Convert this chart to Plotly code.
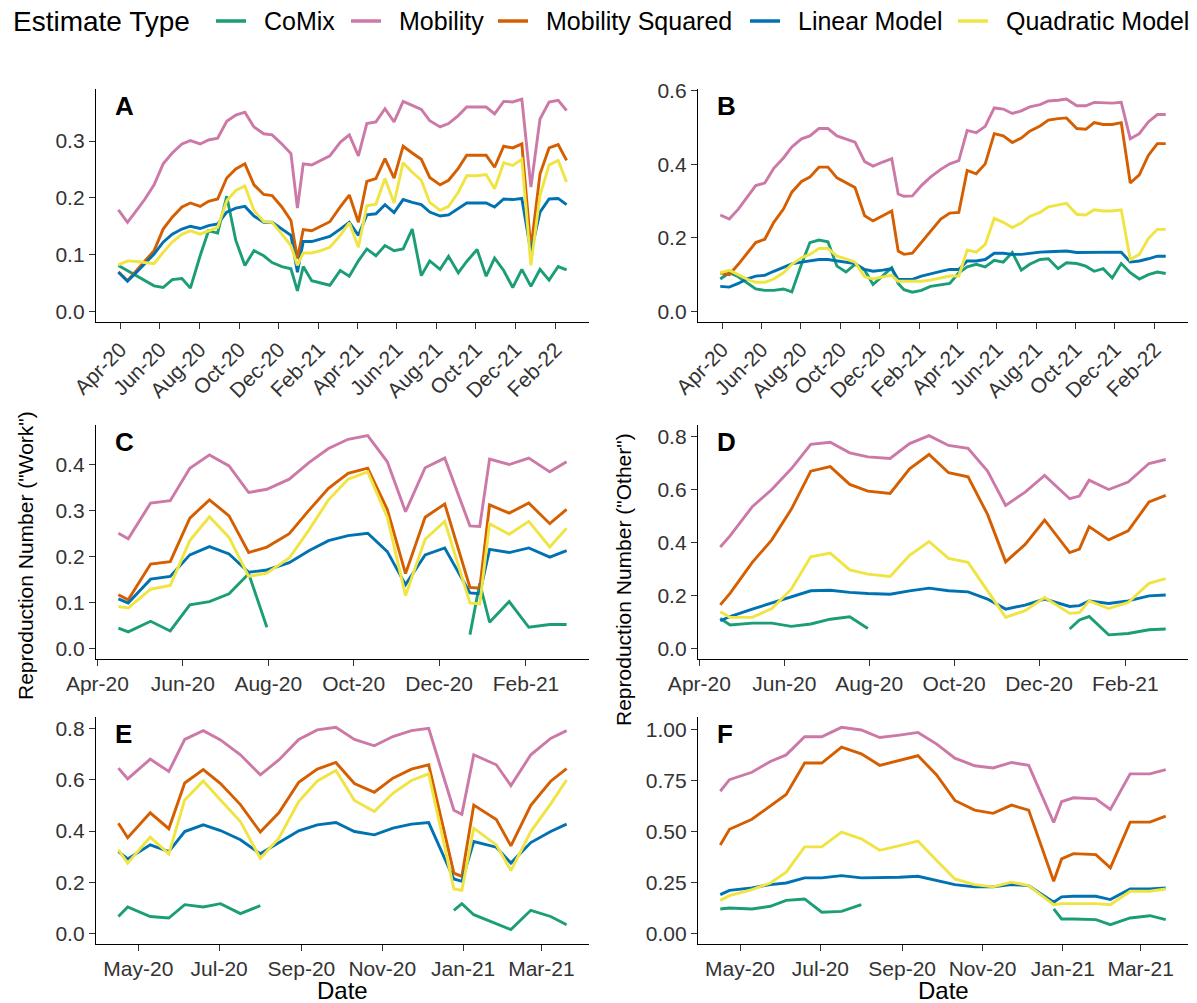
import plotly.graph_objects as go
import pandas as pd

FONT = "Liberation Sans, Arial, Helvetica, sans-serif"

series_names = ["CoMix", "Mobility", "Mobility Squared", "Linear Model", "Quadratic Model"]
series_colors = ["#1B9E77", "#CC79A7", "#D55E00", "#0072B2", "#F0E442"]

# ---------------- Panels A / B (whole period) ----------------
dates_AB = ["2020-03-29", "2020-04-12", "2020-04-26", "2020-05-09", "2020-05-23", "2020-06-06",
            "2020-06-20", "2020-07-05", "2020-07-18", "2020-08-02", "2020-08-15", "2020-08-29",
            "2020-09-12", "2020-09-26", "2020-10-10", "2020-10-24", "2020-11-08", "2020-11-21",
            "2020-12-06", "2020-12-20", "2020-12-30", "2021-01-08", "2021-01-21", "2021-02-04",
            "2021-02-18", "2021-03-06", "2021-03-20", "2021-04-03", "2021-04-16", "2021-04-30",
            "2021-05-14", "2021-05-28", "2021-06-11", "2021-06-25", "2021-07-09", "2021-07-22",
            "2021-08-07", "2021-08-20", "2021-09-04", "2021-09-17", "2021-10-03", "2021-10-17",
            "2021-10-30", "2021-11-13", "2021-11-27", "2021-12-11", "2021-12-25", "2022-01-08",
            "2022-01-22", "2022-02-05", "2022-02-18"]

A_comix = [0.081, 0.072, 0.063, 0.054, 0.045, 0.042, 0.056, 0.058, 0.041, 0.098, 0.142, 0.138, 0.203,
           0.125, 0.081, 0.107, 0.098, 0.086, 0.079, 0.075, 0.036, 0.079, 0.054, 0.050, 0.046, 0.072,
           0.062, 0.089, 0.110, 0.098, 0.116, 0.107, 0.110, 0.145, 0.063, 0.089, 0.074, 0.097, 0.068,
           0.088, 0.109, 0.062, 0.094, 0.072, 0.042, 0.074, 0.044, 0.074, 0.055, 0.079, 0.073]
A_mob = [0.179, 0.157, 0.178, 0.198, 0.223, 0.260, 0.279, 0.295, 0.301, 0.295, 0.302, 0.305, 0.335,
         0.346, 0.351, 0.325, 0.313, 0.311, 0.295, 0.278, 0.182, 0.260, 0.258, 0.266, 0.274, 0.298,
         0.311, 0.274, 0.331, 0.334, 0.357, 0.334, 0.370, 0.363, 0.356, 0.336, 0.325, 0.331, 0.345,
         0.360, 0.360, 0.360, 0.348, 0.370, 0.369, 0.374, 0.219, 0.339, 0.369, 0.372, 0.354]
A_mob2 = [0.070, 0.054, 0.072, 0.089, 0.107, 0.145, 0.166, 0.184, 0.191, 0.185, 0.194, 0.198, 0.235,
          0.251, 0.260, 0.223, 0.206, 0.204, 0.184, 0.160, 0.093, 0.144, 0.142, 0.150, 0.158, 0.184,
          0.205, 0.157, 0.229, 0.234, 0.269, 0.235, 0.291, 0.279, 0.268, 0.236, 0.223, 0.231, 0.252,
          0.275, 0.275, 0.275, 0.254, 0.291, 0.288, 0.295, 0.110, 0.242, 0.288, 0.294, 0.266]
A_lin = [0.069, 0.053, 0.069, 0.084, 0.101, 0.122, 0.136, 0.145, 0.150, 0.146, 0.151, 0.154, 0.175,
         0.182, 0.185, 0.168, 0.157, 0.157, 0.145, 0.134, 0.069, 0.123, 0.123, 0.128, 0.132, 0.145,
         0.157, 0.134, 0.170, 0.172, 0.188, 0.174, 0.197, 0.192, 0.188, 0.175, 0.168, 0.170, 0.182,
         0.191, 0.191, 0.191, 0.184, 0.198, 0.197, 0.199, 0.104, 0.175, 0.198, 0.199, 0.188]
A_quad = [0.082, 0.089, 0.088, 0.086, 0.084, 0.104, 0.122, 0.136, 0.142, 0.136, 0.142, 0.148, 0.195,
          0.213, 0.221, 0.178, 0.158, 0.157, 0.136, 0.116, 0.081, 0.103, 0.103, 0.107, 0.113, 0.134,
          0.156, 0.113, 0.186, 0.189, 0.234, 0.191, 0.262, 0.245, 0.231, 0.192, 0.178, 0.185, 0.210,
          0.239, 0.239, 0.241, 0.216, 0.262, 0.257, 0.268, 0.081, 0.204, 0.258, 0.266, 0.228]

B_comix = [0.088, 0.105, 0.094, 0.079, 0.061, 0.057, 0.057, 0.061, 0.053, 0.128, 0.187, 0.194, 0.189,
           0.123, 0.107, 0.128, 0.112, 0.073, 0.096, 0.119, 0.076, 0.059, 0.052, 0.057, 0.068, 0.073,
           0.076, 0.105, 0.121, 0.128, 0.121, 0.139, 0.134, 0.160, 0.112, 0.128, 0.141, 0.143, 0.116,
           0.132, 0.130, 0.123, 0.109, 0.116, 0.091, 0.130, 0.105, 0.088, 0.100, 0.107, 0.103]
B_mob = [0.262, 0.251, 0.278, 0.310, 0.342, 0.349, 0.389, 0.417, 0.447, 0.469, 0.477, 0.497, 0.497,
         0.477, 0.469, 0.460, 0.407, 0.395, 0.406, 0.415, 0.319, 0.313, 0.314, 0.342, 0.365, 0.386,
         0.401, 0.410, 0.492, 0.486, 0.503, 0.553, 0.550, 0.538, 0.545, 0.556, 0.562, 0.572, 0.574,
         0.577, 0.559, 0.559, 0.568, 0.566, 0.566, 0.568, 0.469, 0.483, 0.515, 0.535, 0.535]
B_mob2 = [0.105, 0.100, 0.128, 0.155, 0.187, 0.196, 0.242, 0.278, 0.324, 0.353, 0.365, 0.392, 0.392,
          0.363, 0.351, 0.337, 0.260, 0.246, 0.260, 0.273, 0.164, 0.155, 0.158, 0.187, 0.219, 0.251,
          0.267, 0.269, 0.383, 0.374, 0.401, 0.483, 0.477, 0.459, 0.471, 0.490, 0.504, 0.520, 0.524,
          0.526, 0.497, 0.495, 0.513, 0.508, 0.508, 0.513, 0.349, 0.371, 0.424, 0.456, 0.456]
B_lin = [0.068, 0.066, 0.076, 0.088, 0.096, 0.098, 0.109, 0.119, 0.129, 0.134, 0.137, 0.141, 0.141,
         0.137, 0.134, 0.130, 0.114, 0.109, 0.112, 0.116, 0.087, 0.087, 0.087, 0.096, 0.103, 0.109,
         0.114, 0.114, 0.137, 0.137, 0.141, 0.158, 0.158, 0.155, 0.155, 0.158, 0.161, 0.162, 0.164,
         0.164, 0.160, 0.160, 0.161, 0.161, 0.161, 0.161, 0.134, 0.137, 0.143, 0.150, 0.150]
B_quad = [0.105, 0.112, 0.100, 0.088, 0.079, 0.079, 0.088, 0.105, 0.128, 0.146, 0.155, 0.171, 0.171,
          0.150, 0.143, 0.134, 0.094, 0.088, 0.094, 0.098, 0.082, 0.082, 0.082, 0.082, 0.085, 0.091,
          0.096, 0.096, 0.167, 0.161, 0.182, 0.253, 0.242, 0.228, 0.240, 0.258, 0.269, 0.284, 0.289,
          0.294, 0.264, 0.262, 0.276, 0.273, 0.273, 0.276, 0.141, 0.155, 0.198, 0.223, 0.223]

# ---------------- Panels C / D ----------------
dates_CD = ["2020-04-16", "2020-04-23", "2020-05-09", "2020-05-23", "2020-06-06", "2020-06-20",
            "2020-07-04", "2020-07-18", "2020-07-31", "2020-08-16", "2020-08-30", "2020-09-13",
            "2020-09-27", "2020-10-11", "2020-10-25", "2020-11-07", "2020-11-21", "2020-12-05",
            "2020-12-23", "2020-12-30", "2021-01-06", "2021-01-20", "2021-02-03", "2021-02-18",
            "2021-03-02"]

C_comix = [0.044, 0.036, 0.059, 0.038, 0.095, 0.102, 0.119, 0.163, 0.046,
           None, None, None, None, None, None, None, None, None,
           0.030, 0.142, 0.057, 0.102, 0.046, 0.052, 0.052]
C_mob = [0.251, 0.239, 0.317, 0.322, 0.393, 0.422, 0.398, 0.340, 0.347, 0.369, 0.405, 0.436, 0.456,
         0.464, 0.407, 0.298, 0.394, 0.415, 0.267, 0.266, 0.413, 0.401, 0.415, 0.385, 0.407]
C_mob2 = [0.117, 0.106, 0.184, 0.189, 0.284, 0.324, 0.289, 0.209, 0.221, 0.250, 0.301, 0.349, 0.382,
          0.393, 0.303, 0.163, 0.286, 0.315, 0.133, 0.131, 0.313, 0.295, 0.317, 0.272, 0.303]
C_lin = [0.108, 0.099, 0.151, 0.157, 0.204, 0.222, 0.206, 0.166, 0.171, 0.187, 0.213, 0.235, 0.246,
         0.251, 0.211, 0.139, 0.204, 0.219, 0.121, 0.119, 0.216, 0.209, 0.219, 0.199, 0.213]
C_quad = [0.091, 0.088, 0.129, 0.137, 0.235, 0.287, 0.242, 0.157, 0.164, 0.197, 0.258, 0.324, 0.369,
          0.385, 0.286, 0.115, 0.238, 0.277, 0.099, 0.097, 0.272, 0.249, 0.277, 0.221, 0.262]

D_comix = [0.113, 0.088, 0.095, 0.095, 0.083, 0.092, 0.110, 0.119, 0.075,
           None, None, None, None, None, None, None, None, None,
           0.073, 0.107, 0.120, 0.051, 0.056, 0.070, 0.073]
D_mob = [0.382, 0.424, 0.534, 0.599, 0.677, 0.769, 0.777, 0.737, 0.722, 0.716, 0.772, 0.802, 0.765,
         0.754, 0.668, 0.539, 0.589, 0.652, 0.564, 0.574, 0.634, 0.599, 0.627, 0.697, 0.712]
D_mob2 = [0.164, 0.207, 0.324, 0.409, 0.524, 0.668, 0.685, 0.618, 0.593, 0.584, 0.677, 0.731, 0.662,
          0.647, 0.505, 0.326, 0.392, 0.484, 0.361, 0.374, 0.459, 0.409, 0.443, 0.552, 0.577]
D_lin = [0.104, 0.120, 0.148, 0.171, 0.192, 0.217, 0.219, 0.211, 0.207, 0.204, 0.217, 0.227, 0.217,
         0.213, 0.186, 0.148, 0.163, 0.186, 0.158, 0.161, 0.179, 0.169, 0.179, 0.198, 0.201]
D_quad = [0.138, 0.117, 0.117, 0.150, 0.223, 0.345, 0.359, 0.296, 0.280, 0.271, 0.351, 0.403, 0.339,
          0.324, 0.217, 0.117, 0.142, 0.192, 0.132, 0.135, 0.179, 0.150, 0.173, 0.245, 0.263]

# ---------------- Panels E / F ----------------
dates_EF = ["2020-04-16", "2020-04-23", "2020-05-10", "2020-05-24", "2020-06-05", "2020-06-19",
            "2020-07-02", "2020-07-17", "2020-08-01", "2020-08-15", "2020-08-30", "2020-09-13",
            "2020-09-27", "2020-10-11", "2020-10-26", "2020-11-09", "2020-11-23", "2020-12-06",
            "2020-12-25", "2020-12-31", "2021-01-09", "2021-01-26", "2021-02-06", "2021-02-21",
            "2021-03-08", "2021-03-20"]

E_comix = [0.067, 0.104, 0.067, 0.061, 0.113, 0.104, 0.117, 0.078, 0.109,
           None, None, None, None, None, None, None, None, None,
           0.091, 0.117, 0.074, 0.040, 0.016, 0.091, 0.067, 0.035]
E_mob = [0.645, 0.603, 0.680, 0.632, 0.757, 0.791, 0.755, 0.697, 0.619, 0.677, 0.757, 0.794, 0.804,
         0.757, 0.732, 0.768, 0.791, 0.800, 0.481, 0.465, 0.697, 0.658, 0.577, 0.697, 0.761, 0.791]
E_mob2 = [0.430, 0.374, 0.471, 0.409, 0.587, 0.639, 0.585, 0.503, 0.396, 0.471, 0.590, 0.641, 0.667,
          0.585, 0.551, 0.606, 0.641, 0.658, 0.236, 0.223, 0.501, 0.445, 0.342, 0.500, 0.594, 0.643]
E_lin = [0.320, 0.291, 0.346, 0.320, 0.398, 0.424, 0.402, 0.366, 0.311, 0.353, 0.401, 0.424, 0.433,
         0.398, 0.385, 0.411, 0.427, 0.433, 0.213, 0.204, 0.359, 0.337, 0.275, 0.355, 0.398, 0.427]
E_quad = [0.327, 0.275, 0.376, 0.311, 0.521, 0.595, 0.521, 0.437, 0.294, 0.372, 0.515, 0.595, 0.636,
          0.519, 0.476, 0.547, 0.597, 0.623, 0.174, 0.169, 0.411, 0.346, 0.246, 0.398, 0.506, 0.599]

F_comix = [0.121, 0.126, 0.121, 0.134, 0.163, 0.170, 0.105, 0.109, 0.142,
           None, None, None, None, None, None, None, None, None,
           0.121, 0.072, 0.072, 0.069, 0.044, 0.077, 0.088, 0.069]
F_mob = [0.697, 0.754, 0.790, 0.843, 0.875, 0.964, 0.964, 1.010, 0.997, 0.960, 0.972, 0.985, 0.929,
         0.859, 0.822, 0.811, 0.838, 0.824, 0.544, 0.646, 0.665, 0.660, 0.608, 0.782, 0.782, 0.803]
F_mob2 = [0.434, 0.511, 0.560, 0.625, 0.681, 0.835, 0.835, 0.913, 0.880, 0.824, 0.848, 0.871, 0.778,
          0.652, 0.605, 0.589, 0.629, 0.605, 0.257, 0.366, 0.392, 0.387, 0.322, 0.546, 0.546, 0.575]
F_lin = [0.191, 0.212, 0.224, 0.240, 0.248, 0.273, 0.273, 0.284, 0.273, 0.273, 0.276, 0.281, 0.261,
         0.240, 0.229, 0.229, 0.240, 0.235, 0.154, 0.180, 0.183, 0.183, 0.167, 0.219, 0.219, 0.224]
F_quad = [0.163, 0.186, 0.216, 0.248, 0.301, 0.425, 0.425, 0.497, 0.464, 0.408, 0.431, 0.453, 0.359,
          0.268, 0.240, 0.229, 0.252, 0.235, 0.142, 0.147, 0.147, 0.147, 0.142, 0.208, 0.208, 0.219]

panel_letters = ["A", "B", "C", "D", "E", "F"]
panel_dates = [dates_AB, dates_AB, dates_CD, dates_CD, dates_EF, dates_EF]
panel_series = [
    [A_comix, A_mob, A_mob2, A_lin, A_quad],
    [B_comix, B_mob, B_mob2, B_lin, B_quad],
    [C_comix, C_mob, C_mob2, C_lin, C_quad],
    [D_comix, D_mob, D_mob2, D_lin, D_quad],
    [E_comix, E_mob, E_mob2, E_lin, E_quad],
    [F_comix, F_mob, F_mob2, F_lin, F_quad],
]
x_tick_start = ["2020-04-01", "2020-04-01", "2020-04-01", "2020-04-01", "2020-05-01", "2020-05-01"]
y_tick_step = [0.1, 0.2, 0.1, 0.2, 0.2, 0.25]
y_tick_fmt = [".1f", ".1f", ".1f", ".1f", ".1f", ".2f"]

W, H = 1197, 1003
col_px = [(96, 589), (698, 1188)]
row_px = [(88.5, 322), (425, 659), (717, 944)]
LW = 2.9
TICK_FONT = dict(size=21, color="#333333", family=FONT)

fig = go.Figure()
layout_axes = {}
annotations = []
shapes = []

for i in range(6):
    n = i + 1
    r, c = divmod(i, 2)
    xa = "x" if n == 1 else f"x{n}"
    ya = "y" if n == 1 else f"y{n}"
    dts = pd.to_datetime(panel_dates[i])
    for k, (name, color) in enumerate(zip(series_names, series_colors)):
        fig.add_trace(go.Scatter(
            x=dts, y=panel_series[i][k], mode="lines", name=name,
            line=dict(color=color, width=LW), legendgroup=name,
            showlegend=False, xaxis=xa, yaxis=ya, connectgaps=False))
    span = dts.max() - dts.min()
    xr = [dts.min() - span * 0.05, dts.max() + span * 0.05]
    vals = [v for s in panel_series[i] for v in s if v is not None]
    ymin, ymax = min(0, min(vals)), max(vals)
    ysp = ymax - ymin
    yr = [ymin - 0.05 * ysp, ymax + 0.05 * ysp]

    x0, x1 = col_px[c]
    t0, t1 = row_px[r]
    xkey = "xaxis" if n == 1 else f"xaxis{n}"
    ykey = "yaxis" if n == 1 else f"yaxis{n}"
    layout_axes[xkey] = dict(
        domain=[x0 / W, x1 / W], anchor=ya, type="date", range=xr,
        tick0=x_tick_start[i], dtick="M2", tickformat="%b-%y",
        tickangle=-45 if r == 0 else 0, automargin=False,
        showline=True, linecolor="black", linewidth=1.4, ticks="outside", ticklen=6,
        tickwidth=1.4, tickcolor="#333333", showgrid=False, zeroline=False,
        tickfont=TICK_FONT)
    layout_axes[ykey] = dict(
        domain=[1 - t1 / H, 1 - t0 / H], anchor=xa, range=yr, automargin=False,
        tick0=0, dtick=y_tick_step[i], tickformat=y_tick_fmt[i],
        showline=True, linecolor="black", linewidth=1.4, ticks="outside", ticklen=6,
        tickwidth=1.4, tickcolor="#333333", showgrid=False, zeroline=False,
        tickfont=TICK_FONT)
    annotations.append(dict(
        text=f"<b>{panel_letters[i]}</b>", xref=f"{xa} domain", yref=f"{ya} domain",
        x=0.035, y=1.0, xanchor="left", yanchor="top", showarrow=False,
        font=dict(size=26, color="black", family=FONT)))

annotations += [
    dict(text='Reproduction Number ("Work")', xref="paper", yref="paper", x=25 / W, y=1 - 556 / H,
         textangle=-90, showarrow=False, xanchor="center", yanchor="middle",
         font=dict(size=21, color="black", family=FONT)),
    dict(text='Reproduction Number ("Other")', xref="paper", yref="paper", x=623 / W, y=1 - 580 / H,
         textangle=-90, showarrow=False, xanchor="center", yanchor="middle",
         font=dict(size=21, color="black", family=FONT)),
    dict(text="Date", xref="paper", yref="paper", x=342 / W, y=1 - 990 / H, showarrow=False,
         xanchor="center", yanchor="middle", font=dict(size=24, color="black", family=FONT)),
    dict(text="Date", xref="paper", yref="paper", x=943 / W, y=1 - 990 / H, showarrow=False,
         xanchor="center", yanchor="middle", font=dict(size=24, color="black", family=FONT)),
]

# ---------------- legend (drawn as keys + text, ggplot-style) ----------------
LEG_Y = 1 - 21 / H
annotations.append(dict(text="Estimate Type", xref="paper", yref="paper", x=11 / W, y=LEG_Y,
                        xanchor="left", yanchor="middle", showarrow=False,
                        font=dict(size=28, color="black", family=FONT)))
key_centers = [231, 366, 513, 765, 973]
for name, color, kc in zip(series_names, series_colors, key_centers):
    shapes.append(dict(type="line", xref="paper", yref="paper",
                       x0=(kc - 15) / W, x1=(kc + 15) / W, y0=LEG_Y, y1=LEG_Y,
                       line=dict(color=color, width=LW + 0.6)))
    annotations.append(dict(text=name, xref="paper", yref="paper", x=(kc + 31) / W, y=LEG_Y,
                            xanchor="left", yanchor="middle", showarrow=False,
                            font=dict(size=25, color="black", family=FONT)))

fig.update_layout(
    width=W, height=H, margin=dict(l=0, r=0, t=0, b=0),
    paper_bgcolor="white", plot_bgcolor="white",
    font=dict(family=FONT, color="black"),
    showlegend=False,
    annotations=annotations, shapes=shapes,
    **layout_axes)

fig.write_html("out.html")
